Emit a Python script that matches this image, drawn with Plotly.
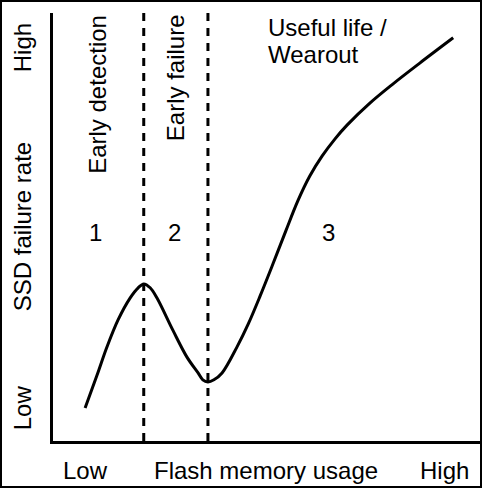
import plotly.graph_objects as go

# === Curve (usage 0-100, failure rate 0-100) ===
usage = [7.5, 10.3, 12.6, 15.2, 18.0, 19.9, 21.2, 22.7, 24.3, 28.0, 31.3, 33.9, 35.0,
         36.2, 37.6, 39.5, 43.0, 45.6, 48.4, 51.4, 54.4, 57.2, 60.0, 62.9, 65.9,
         68.7, 74.1, 79.4, 85.7, 93.5]
failure_rate = [7.7, 15.4, 21.96, 28.3, 33.4, 35.8, 36.7, 35.8, 33.4, 25.9, 19.6, 15.9, 14.3,
                13.8, 14.3, 15.9, 22.0, 27.3, 33.9, 41.4, 49.1, 56.1, 61.9, 66.6, 70.6,
                73.8, 79.0, 83.4, 88.3, 94.2]

# phase boundaries
boundaries = [21.2, 36.2]

# region labels
phase_numbers = ["1", "2", "3"]
phase_num_x = [10.0, 28.5, 64.3]
phase_num_y = [48.6, 48.6, 48.8]

phase_names = ["Early detection", "Early failure"]
phase_name_x = [10.5, 28.5]
phase_name_y = [81.1, 85.0]

wear_lines = ["Useful life /", "Wearout"]
wear_y = [96.5, 90.4]

axis_low_high = ["Low", "High"]
x_label_pos = [7.7, 91.4]
y_label_pos = [7.7, 91.8]

FONT = "Liberation Sans, Arial, Helvetica, sans-serif"
FS = 24

fig = go.Figure()

fig.add_trace(go.Scatter(
    x=usage, y=failure_rate,
    mode="lines",
    line=dict(color="black", width=3, shape="spline", smoothing=1.0),
    hoverinfo="skip",
    showlegend=False))

for b in boundaries:
    fig.add_shape(type="line", xref="x", yref="paper", x0=b, x1=b, y0=0, y1=1,
                  line=dict(color="black", width=3, dash="8px,7px"))

annotations = []
for t, x, y in zip(phase_numbers, phase_num_x, phase_num_y):
    annotations.append(dict(text=t, x=x, y=y, xref="x", yref="y"))
for t, x, y in zip(phase_names, phase_name_x, phase_name_y):
    annotations.append(dict(text=t, x=x, y=y, xref="x", yref="y", textangle=-90))
for t, y in zip(wear_lines, wear_y):
    annotations.append(dict(text=t, x=49.8, y=y, xref="x", yref="y", xanchor="left"))

# axis words
for t, x in zip(axis_low_high, x_label_pos):
    annotations.append(dict(text=t, x=x, y=-0.07, xref="x", yref="paper"))
annotations.append(dict(text="Flash memory usage", x=0.497, y=-0.07, xref="paper", yref="paper"))
for t, y in zip(axis_low_high, y_label_pos):
    annotations.append(dict(text=t, x=-0.072, y=y, xref="paper", yref="y", textangle=-90))
annotations.append(dict(text="SSD failure rate", x=-0.072, y=0.5, xref="paper", yref="paper",
                        textangle=-90))

for a in annotations:
    a.setdefault("xanchor", "center")
    a["yanchor"] = "middle"
    a["showarrow"] = False

# outer frame around the whole picture
fig.add_shape(type="rect", xref="paper", yref="paper",
              x0=(1 - 53) / 428, x1=1.0, y0=(441 - 487) / 428, y1=(441 - 1) / 428,
              line=dict(color="black", width=2), fillcolor="rgba(0,0,0,0)")

fig.update_layout(
    width=482, height=488,
    margin=dict(l=53, r=1, t=13, b=47),
    paper_bgcolor="white", plot_bgcolor="white",
    font=dict(family=FONT, size=FS, color="black"),
    annotations=annotations,
    showlegend=False,
    xaxis=dict(range=[0, 100], showgrid=False, zeroline=False, showticklabels=False,
               ticks="", showline=True, linecolor="black", linewidth=3),
    yaxis=dict(range=[0, 100], showgrid=False, zeroline=False, showticklabels=False,
               ticks="", showline=True, linecolor="black", linewidth=3),
)

fig.write_html("out.html", config={"displayModeBar": False},
               post_script="document.body.style.margin = '0';")
